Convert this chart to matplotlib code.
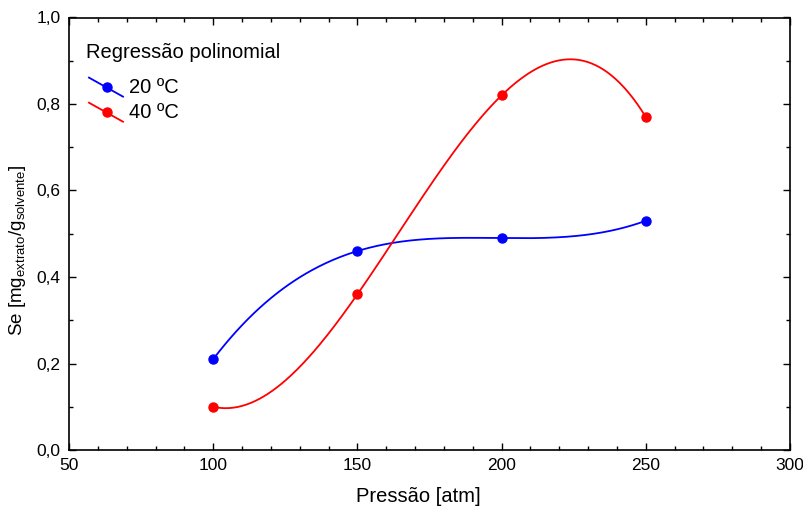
import numpy as np
import matplotlib.pyplot as plt
from matplotlib.ticker import MultipleLocator, FuncFormatter

plt.rcParams['font.family'] = ['Liberation Sans', 'DejaVu Sans']
plt.rcParams['mathtext.fontset'] = 'custom'
plt.rcParams['mathtext.rm'] = 'Liberation Sans'

# pressão [atm] e solubilidade medida
pressao = [100, 150, 200, 250]
se_20 = [0.21, 0.46, 0.49, 0.53]
se_40 = [0.10, 0.36, 0.82, 0.77]
series = [('20 ºC', se_20, '#0000ff'), ('40 ºC', se_40, '#ff0000')]

fig = plt.figure(figsize=(8.04, 5.09), dpi=100)
ax = fig.add_axes([69/804, 1 - 450/509, (790-69)/804, (450-17.5)/509])

xx = np.linspace(100, 250, 300)
for nome, y, cor in series:
    coef = np.polyfit(pressao, y, 3)
    ax.plot(xx, np.polyval(coef, xx), color=cor, lw=1.3)
    ax.plot(pressao, y, 'o', color=cor, ms=6.5)

ax.set_xlim(50, 300)
ax.set_ylim(0, 1.0)
ax.xaxis.set_major_locator(MultipleLocator(50))
ax.xaxis.set_minor_locator(MultipleLocator(10))
ax.yaxis.set_major_locator(MultipleLocator(0.2))
ax.yaxis.set_minor_locator(MultipleLocator(0.1))
ax.yaxis.set_major_formatter(FuncFormatter(lambda v, p: f'{v:.1f}'.replace('.', ',')))
ax.tick_params(which='both', direction='in', top=True, right=True, width=1)
ax.tick_params(which='major', length=5, labelsize=12.5, pad=6)
ax.tick_params(which='minor', length=3)
for s in ax.spines.values():
    s.set_linewidth(1.2)

ax.set_xlabel('Pressão [atm]', fontsize=14.5)
ax.xaxis.set_label_coords(0.485, -0.085)
ax.set_ylabel('Se [mg$\\mathregular{_{extrato}}$/g$\\mathregular{_{solvente}}$]', fontsize=13.5)
ax.yaxis.set_label_coords(-0.057, 0.462)

# legenda desenhada à mão, com a linha inclinada
ax.text(0.023, 0.920, 'Regressão polinomial', transform=ax.transAxes, fontsize=14.5, va='center')
for i, (nome, y, cor) in enumerate(series):
    y0 = 0.839 - i * 0.058
    ax.plot([0.0277, 0.0749], [y0 + 0.022, y0 - 0.022], color=cor, lw=1.3,
            transform=ax.transAxes, clip_on=False)
    ax.plot([0.0527], [y0], 'o', color=cor, ms=6.5, transform=ax.transAxes)
    ax.text(0.0832, y0, nome, transform=ax.transAxes, fontsize=14.5, va='center')

fig.savefig('out.png', dpi=100)
